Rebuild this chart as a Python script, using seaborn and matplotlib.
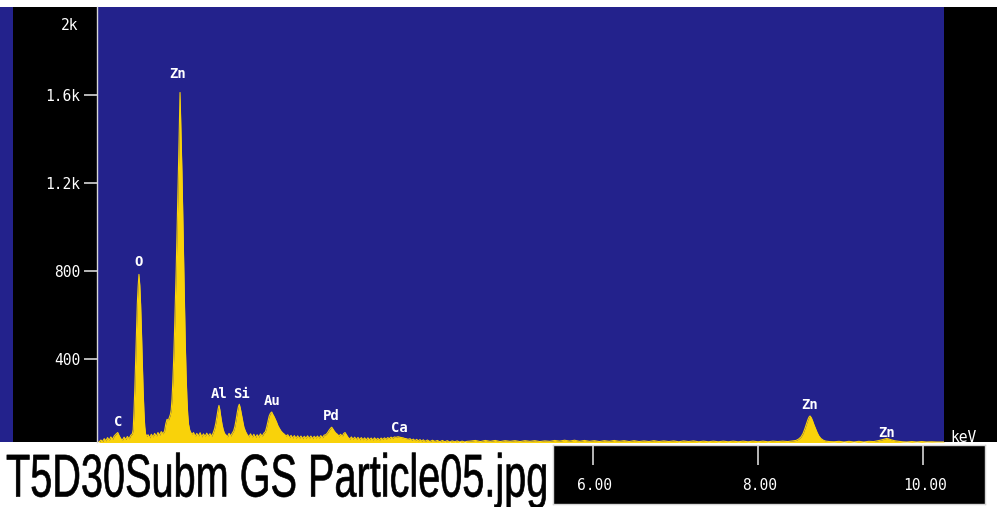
import matplotlib
matplotlib.use("Agg")
import numpy as np
import pandas as pd
import matplotlib.pyplot as plt
import seaborn as sns
from matplotlib.patches import Rectangle
from matplotlib.patheffects import AbstractPathEffect
from matplotlib.text import Text
from matplotlib.transforms import Affine2D, Bbox

# ---------------------------------------------------------------------------
# EDS spectrum (energy in keV, counts), low-energy part 0 - 4.5 keV
kev_low = [
    0.00, 0.03, 0.05, 0.07, 0.09, 0.11, 0.13, 0.15, 0.17, 0.19, 0.21, 0.23, 0.253, 0.27, 0.29,
    0.31, 0.33, 0.35, 0.37, 0.39, 0.41, 0.43, 0.44, 0.45, 0.46, 0.47, 0.48, 0.49, 0.50,
    0.51, 0.52, 0.53, 0.54, 0.55, 0.56, 0.57, 0.58, 0.59, 0.605, 0.62, 0.64, 0.66, 0.68,
    0.70, 0.72, 0.74, 0.76, 0.78, 0.80, 0.82, 0.835, 0.85, 0.865, 0.88, 0.89, 0.90, 0.91,
    0.92, 0.93, 0.94, 0.95, 0.96, 0.97, 0.98, 0.99, 0.998, 1.003, 1.007, 1.012, 1.02, 1.03,
    1.04, 1.05, 1.06, 1.07, 1.08, 1.09, 1.10, 1.11, 1.125, 1.14, 1.155, 1.17, 1.19, 1.21,
    1.23, 1.25, 1.27, 1.29, 1.31, 1.33, 1.35, 1.37, 1.39, 1.41, 1.425, 1.44, 1.455, 1.468,
    1.478, 1.488, 1.50, 1.515, 1.53, 1.545, 1.56, 1.58, 1.60, 1.62, 1.64, 1.655, 1.67, 1.685,
    1.70, 1.713, 1.724, 1.735, 1.75, 1.765, 1.78, 1.80, 1.82, 1.84, 1.86, 1.88, 1.90, 1.92,
    1.94, 1.96, 1.98, 2.00, 2.02, 2.04, 2.055, 2.07, 2.085, 2.10, 2.116, 2.13, 2.145, 2.16,
    2.175, 2.19, 2.21, 2.23, 2.25, 2.27, 2.29, 2.31, 2.33, 2.35, 2.37, 2.39, 2.41, 2.43, 2.45,
    2.47, 2.49, 2.51, 2.53, 2.55, 2.57, 2.59, 2.61, 2.63, 2.65, 2.67, 2.69, 2.71, 2.73, 2.75,
    2.77, 2.79, 2.81, 2.83, 2.842, 2.855, 2.87, 2.89, 2.91, 2.93, 2.95, 2.97, 2.985, 3.003,
    3.02, 3.04, 3.06, 3.08, 3.10, 3.12, 3.14, 3.16, 3.18, 3.20, 3.22, 3.24, 3.26, 3.28, 3.30,
    3.32, 3.34, 3.36, 3.38, 3.40, 3.42, 3.44, 3.46, 3.48, 3.50, 3.52, 3.54, 3.56, 3.58, 3.60,
    3.62, 3.644, 3.665, 3.685, 3.705, 3.725, 3.745, 3.765, 3.79, 3.81, 3.83, 3.85, 3.87, 3.89,
    3.91, 3.93, 3.95, 3.97, 4.00, 4.03, 4.06, 4.09, 4.12, 4.15, 4.18, 4.21, 4.24, 4.27, 4.30,
    4.33, 4.36, 4.39, 4.42, 4.45, 4.48,
]
counts_low = [
    20, 26, 34, 27, 40, 30, 45, 33, 48, 37, 52, 60, 68, 54, 40,
    34, 47, 36, 50, 39, 55, 62, 80, 165, 267, 393, 532, 650, 730,
    785, 735, 650, 530, 390, 265, 165, 95, 62, 50, 58, 44, 60, 48,
    64, 50, 68, 56, 72, 62, 75, 108, 128, 122, 138, 150, 170, 220,
    300, 400, 520, 660, 800, 960, 1120, 1300, 1450, 1540, 1610, 1530, 1400, 1250,
    1060, 860, 660, 480, 335, 225, 150, 105, 78, 66, 60, 68, 50, 64,
    52, 67, 48, 62, 50, 65, 52, 63, 51, 68, 85, 110, 145, 175,
    191, 172, 140, 105, 80, 64, 58, 48, 64, 52, 66, 75, 95, 125,
    160, 185, 196, 180, 150, 118, 92, 72, 58, 48, 62, 46, 60, 45,
    58, 47, 62, 50, 64, 72, 92, 118, 142, 155, 161, 150, 140, 128,
    115, 100, 86, 74, 66, 60, 52, 58, 44, 55, 43, 54, 42, 53, 41,
    52, 40, 51, 42, 53, 41, 52, 40, 51, 43, 52, 41, 54, 44, 56,
    58, 66, 78, 88, 92, 85, 76, 66, 60, 52, 60, 50, 63, 68,
    58, 46, 38, 48, 37, 47, 36, 46, 35, 45, 35, 44, 34, 44, 35,
    43, 34, 44, 35, 42, 34, 43, 36, 44, 37, 45, 40, 47, 42, 48,
    46, 49, 47, 45, 44, 41, 40, 37, 40, 33, 38, 31, 37, 30,
    36, 29, 35, 28, 34, 27, 33, 28, 32, 26, 32, 26, 31, 25, 30,
    26, 30, 25, 29, 25, 28,
]

# high-energy part 4.5 - 10.25 keV
kev_high = [
    4.52, 4.58, 4.64, 4.70, 4.76, 4.82, 4.88, 4.94, 5.00, 5.06, 5.12, 5.18, 5.24, 5.30, 5.36,
    5.42, 5.48, 5.54, 5.60, 5.66, 5.72, 5.78, 5.84, 5.90, 5.96, 6.02, 6.08, 6.14, 6.20, 6.26,
    6.32, 6.38, 6.44, 6.50, 6.56, 6.62, 6.68, 6.74, 6.80, 6.86, 6.92, 6.98, 7.04, 7.10, 7.16,
    7.22, 7.28, 7.34, 7.40, 7.46, 7.52, 7.58, 7.64, 7.70, 7.76, 7.82, 7.88, 7.94, 8.00, 8.06,
    8.12, 8.18, 8.24, 8.30, 8.36, 8.42, 8.46, 8.49, 8.52, 8.545, 8.565, 8.585, 8.60, 8.615,
    8.629, 8.645, 8.66, 8.675, 8.695, 8.715, 8.735, 8.76, 8.79, 8.82, 8.86, 8.92, 8.98, 9.04,
    9.10, 9.16, 9.22, 9.28, 9.34, 9.40, 9.44, 9.48, 9.51, 9.535, 9.557, 9.58, 9.61, 9.65,
    9.70, 9.75, 9.80, 9.86, 9.92, 9.98, 10.04, 10.10, 10.16, 10.25,
]
counts_high = [
    29, 32, 27, 32, 28, 32, 27, 31, 28, 31, 27, 31, 28, 31, 27,
    30, 28, 32, 29, 33, 29, 33, 28, 32, 28, 31, 27, 31, 28, 32,
    28, 31, 27, 31, 27, 30, 27, 31, 27, 30, 27, 30, 26, 30, 27,
    30, 26, 29, 26, 29, 26, 29, 26, 29, 26, 29, 26, 29, 26, 29,
    26, 29, 27, 29, 27, 30, 32, 38, 48, 64, 84, 106, 123, 137,
    143, 135, 121, 105, 86, 68, 53, 41, 33, 29, 27, 26, 28, 25,
    28, 25, 28, 25, 28, 27, 30, 33, 36, 39, 41, 39, 35, 31,
    28, 26, 25, 27, 25, 27, 25, 26, 25, 25,
]

# element line labels
element_names = ["C", "O", "Zn", "Al", "Si", "Au", "Pd", "Ca", "Zn", "Zn"]
element_kev = [0.253, 0.511, 0.974, 1.482, 1.753, 2.116, 2.842, 3.660, 8.629, 9.557]
element_label_counts = [116, 841, 1692, 241, 244, 210, 141, 90, 191, 68]

# axis ticks
count_ticks = [400, 800, 1200, 1600]
count_tick_labels = ["400", "800", "1.2k", "1.6k"]
kev_ticks = [6, 8, 10]
kev_tick_labels = ["6.00", "8.00", "10.00"]
file_caption = "T5D30Subm GS Particle05.jpg"

spectrum = pd.DataFrame({
    "keV": kev_low + kev_high,
    "counts": counts_low + counts_high,
})

# ---------------------------------------------------------------------------
sns.set_style("white")
MONO = ["DejaVu Sans Mono"]
plt.rcParams["font.family"] = MONO

W, H = 997, 507
BLUE = "#23228c"
YELLOW = "#f9d20a"
GREY = "#d6d6d6"

fig = plt.figure(figsize=(W / 100, H / 100), dpi=100, facecolor="white")


def px_box(x0, y0, x1, y1):
    """Pixel box (top-left origin) -> figure-fraction rectangle."""
    return [x0 / W, 1 - y1 / H, (x1 - x0) / W, (y1 - y0) / H]


def fig_rect(x0, y0, x1, y1, color):
    l, b, w, h = px_box(x0, y0, x1, y1)
    fig.add_artist(Rectangle((l, b), w, h, transform=fig.transFigure,
                             facecolor=color, edgecolor="none", zorder=0))


# instrument frame: black side panels and a thin blue strip on the far left
fig_rect(0, 6.5, 13, 442, BLUE)
fig_rect(13, 6.5, W, 442, "black")

# main spectrum axes
X_LEFT, X_RIGHT = 96.8, 944.0
KEV_MAX = 10.25
ax = fig.add_axes(px_box(X_LEFT, 6.5, X_RIGHT, 442), zorder=2)
ax.set_facecolor(BLUE)
ax.fill_between(spectrum["keV"], 0, spectrum["counts"], color=YELLOW,
                linewidth=0, zorder=2)
sns.lineplot(data=spectrum, x="keV", y="counts", ax=ax, color=YELLOW,
             linewidth=0.8, zorder=3)
ax.set_xlim(0, KEV_MAX)
ax.set_ylim(25, 2000)
ax.set_xlabel("")
ax.set_ylabel("")
ax.set_xticks([])
ax.set_yticks(count_ticks)
ax.set_yticklabels(count_tick_labels)
ax.tick_params(axis="y", direction="out", length=9.5, width=1.2, color=GREY,
               pad=2.5, labelcolor="white", labelsize=10.5, left=True)
for side in ("top", "right", "bottom"):
    ax.spines[side].set_visible(False)
ax.spines["left"].set_color(GREY)
ax.spines["left"].set_linewidth(1.0)

ax.annotate("2k", xy=(0, 2000), xycoords=("axes fraction", "data"),
            xytext=(-13.3, -13.6), textcoords="offset points",
            ha="right", va="center", color="white", fontsize=10.5,
            annotation_clip=False)

for name, e, c in zip(element_names, element_kev, element_label_counts):
    ax.text(e, c, name, ha="center", va="center", color="white",
            fontsize=10, fontweight="bold", zorder=4)

# energy scale panel
px_per_kev = (X_RIGHT - X_LEFT) / KEV_MAX
P_LEFT, P_RIGHT = 553.0, 985.0
pax = fig.add_axes(px_box(P_LEFT, 445, P_RIGHT, 504), zorder=2)
pax.set_facecolor("black")
pax.set_xlim((P_LEFT - X_LEFT) / px_per_kev, (P_RIGHT - X_LEFT) / px_per_kev)
pax.set_ylim(0, 1)
pax.set_yticks([])
pax.xaxis.set_ticks_position("top")
pax.set_xticks(kev_ticks)
pax.tick_params(axis="x", direction="in", length=14.4, width=1.2, color=GREY,
                labeltop=False, labelbottom=False)
for side in pax.spines.values():
    side.set_color(GREY)
    side.set_linewidth(1.0)
for t, lab in zip(kev_ticks, kev_tick_labels):
    pax.text(t + 0.02, 0.31, lab, ha="center", va="center", color="white",
             fontsize=10.5, transform=pax.get_xaxis_transform())

fig.text(963.5 / W, 1 - 437 / H, "keV", ha="center", va="center",
         color="white", fontsize=10.5)


# file caption in a tall, narrow sans face
class Condense(AbstractPathEffect):
    """Squeeze glyph outlines horizontally and give them a slight stroke."""

    def __init__(self, sx, stroke=1.0):
        super().__init__()
        self.sx = sx
        self.stroke = stroke

    def draw_path(self, renderer, gc, tpath, affine, rgbFace=None):
        gc0 = renderer.new_gc()
        gc0.copy_properties(gc)
        gc0.set_linewidth(self.stroke)
        gc0.set_foreground(rgbFace)
        renderer.draw_path(gc0, tpath, Affine2D().scale(self.sx, 1.0) + affine,
                           rgbFace)
        gc0.restore()


class CondensedText(Text):
    """Left-anchored text drawn horizontally squeezed by a factor sx."""

    def __init__(self, *args, **kwargs):
        super().__init__(*args, **kwargs)
        self._sx = 1.0

    def set_condense(self, sx):
        self._sx = sx
        self.set_path_effects([Condense(sx, stroke=0.45)])

    def get_window_extent(self, renderer=None, dpi=None):
        bb = super().get_window_extent(renderer, dpi)
        return Bbox.from_bounds(bb.x0, bb.y0, bb.width * self._sx, bb.height)


caption = CondensedText(6 / W, 1 - 496.5 / H, file_caption, ha="left",
                        va="baseline", color="black", fontsize=43.5,
                        family=["Liberation Sans", "DejaVu Sans"],
                        transform=fig.transFigure)
fig.add_artist(caption)
renderer = fig.canvas.get_renderer()
natural_w = caption.get_window_extent(renderer).width
caption.set_condense(542.0 / natural_w)

fig.savefig("out.png", dpi=100, facecolor="white")
